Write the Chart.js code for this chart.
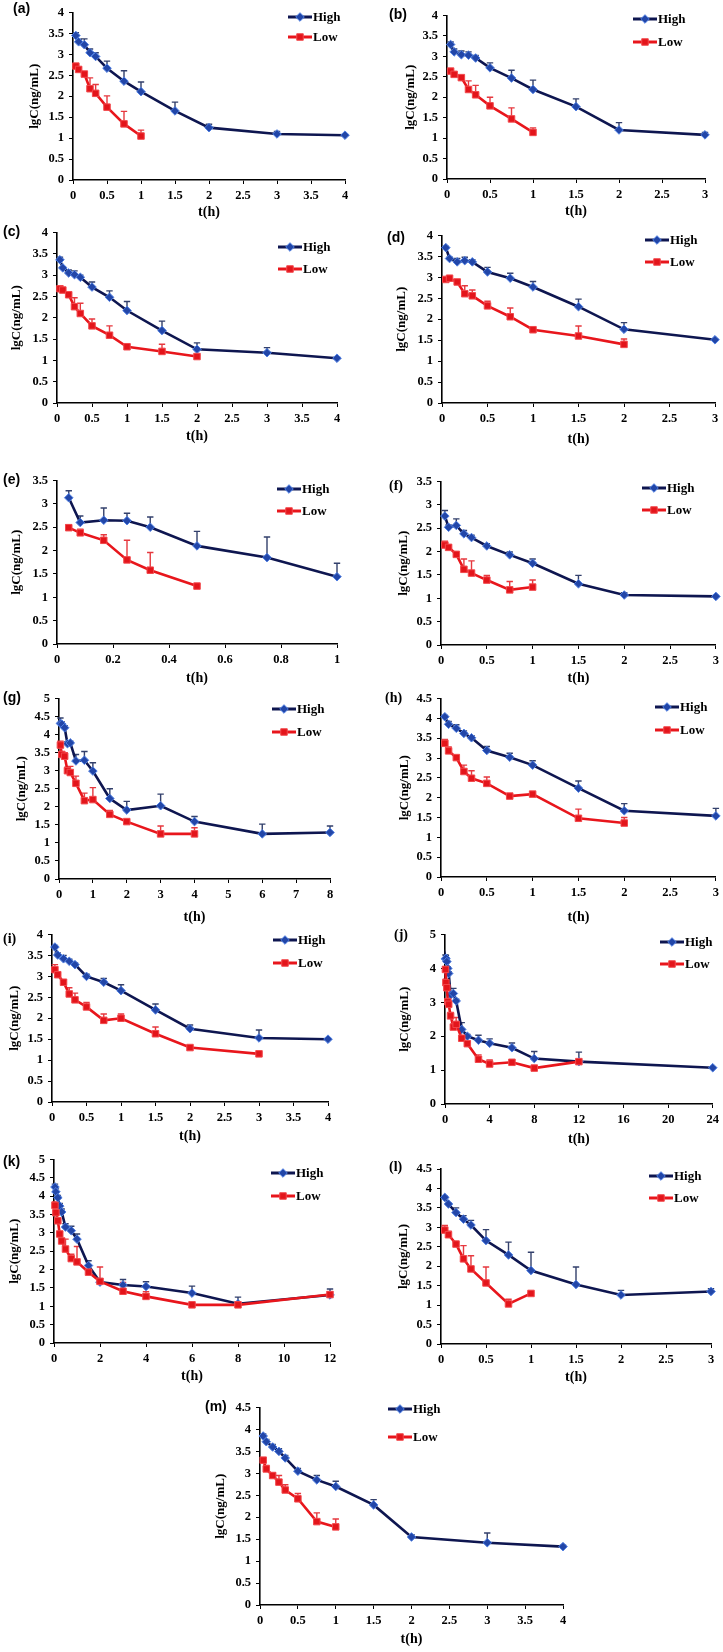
<!DOCTYPE html>
<html lang="en">
<head>
<meta charset="UTF-8">
<title>lgC-t curves, High / Low</title>
<script src="https://cdn.jsdelivr.net/npm/chart.js"></script>
<style>
  body { margin: 0; background: #fff; }
  #wrap { position: relative; width: 723px; height: 1652px; }
  #wrap canvas { position: absolute; }
</style>
</head>
<body>
<div id="wrap"></div>
<script>
// sampling times (h)
const T1  = [0.042, 0.083, 0.167, 0.25, 0.333, 0.5, 0.75, 1];
const T3  = [0.042, 0.083, 0.167, 0.25, 0.333, 0.5, 0.75, 1, 1.5, 2, 3];
const T4  = [0.042, 0.083, 0.167, 0.25, 0.333, 0.5, 0.75, 1, 1.5, 2, 3, 4];
const T8  = [0.042, 0.083, 0.167, 0.25, 0.333, 0.5, 0.75, 1, 1.5, 2, 3, 4, 6, 8];
const T12 = [0.042, 0.083, 0.167, 0.25, 0.333, 0.5, 0.75, 1, 1.5, 2, 3, 4, 6, 8, 12];
const T24 = [0.042, 0.083, 0.167, 0.25, 0.333, 0.5, 0.75, 1, 1.5, 2, 3, 4, 6, 8, 12, 24];

// lgC means and SDs (low series uses the first n times of its panel)
const highA = [3.45, 3.30, 3.23, 3.04, 2.95, 2.67, 2.36, 2.11, 1.65, 1.25, 1.10, 1.07];
const highSdA = [0.07, 0.06, 0.14, 0.09, 0.09, 0.17, 0.25, 0.23, 0.21, 0.08, 0.06, 0.02];
const lowA = [2.72, 2.64, 2.53, 2.18, 2.07, 1.74, 1.34, 1.05];
const lowSdA = [0.03, 0.05, 0.05, 0.26, 0.21, 0.27, 0.30, 0.14];

const highB = [3.29, 3.11, 3.04, 3.03, 2.96, 2.72, 2.47, 2.19, 1.77, 1.20, 1.08];
const highSdB = [0.06, 0.07, 0.09, 0.08, 0.06, 0.12, 0.19, 0.23, 0.19, 0.18, 0.06];
const lowB = [2.64, 2.56, 2.48, 2.19, 2.06, 1.79, 1.47, 1.14];
const lowSdB = [0.03, 0.03, 0.03, 0.21, 0.23, 0.21, 0.27, 0.11];

const highC = [3.36, 3.17, 3.05, 3.01, 2.95, 2.72, 2.48, 2.17, 1.70, 1.26, 1.18, 1.05];
const highSdC = [0.06, 0.03, 0.07, 0.09, 0.05, 0.12, 0.15, 0.21, 0.22, 0.15, 0.12, 0.03];
const lowC = [2.68, 2.65, 2.54, 2.26, 2.10, 1.81, 1.59, 1.32, 1.21, 1.09];
const lowSdC = [0.02, 0.05, 0.03, 0.21, 0.24, 0.16, 0.22, 0.05, 0.17, 0.02];

const highD = [3.71, 3.45, 3.37, 3.40, 3.37, 3.13, 2.98, 2.77, 2.30, 1.76, 1.51];
const highSdD = [0.03, 0.03, 0.08, 0.08, 0.05, 0.11, 0.12, 0.13, 0.18, 0.16, 0.02];
const lowD = [2.95, 2.98, 2.89, 2.61, 2.56, 2.32, 2.06, 1.75, 1.60, 1.40];
const lowSdD = [0.03, 0.03, 0.03, 0.19, 0.14, 0.11, 0.21, 0.01, 0.24, 0.13];

const highE = [3.13, 2.60, 2.65, 2.64, 2.50, 2.10, 1.85, 1.44];
const highSdE = [0.15, 0.14, 0.26, 0.16, 0.22, 0.31, 0.44, 0.29];
const lowE = [2.49, 2.38, 2.22, 1.80, 1.58, 1.24];
const lowSdE = [0.06, 0.08, 0.12, 0.42, 0.38, 0.03];

const highF = [2.76, 2.52, 2.56, 2.38, 2.30, 2.12, 1.93, 1.75, 1.31, 1.07, 1.04];
const highSdF = [0.12, 0.05, 0.14, 0.07, 0.05, 0.05, 0.06, 0.09, 0.18, 0.05, 0.02];
const lowF = [2.14, 2.09, 1.94, 1.62, 1.54, 1.39, 1.18, 1.24];
const lowSdF = [0.08, 0.05, 0.05, 0.22, 0.26, 0.10, 0.18, 0.15];

const highG = [4.31, 4.29, 4.19, 3.75, 3.77, 3.27, 3.29, 2.99, 2.23, 1.91, 2.03, 1.59, 1.25, 1.29];
const highSdG = [0.15, 0.06, 0.06, 0.05, 0.05, 0.18, 0.24, 0.23, 0.27, 0.24, 0.32, 0.14, 0.27, 0.18];
const lowG = [3.71, 3.45, 3.40, 3.00, 2.95, 2.65, 2.17, 2.20, 1.79, 1.59, 1.25, 1.25];
const lowSdG = [0.11, 0.05, 0.10, 0.10, 0.17, 0.20, 0.21, 0.33, 0.11, 0.03, 0.22, 0.17];

const highH = [4.04, 3.85, 3.75, 3.62, 3.51, 3.19, 3.02, 2.82, 2.24, 1.67, 1.54];
const highSdH = [0.03, 0.07, 0.09, 0.06, 0.05, 0.10, 0.10, 0.11, 0.18, 0.18, 0.19];
const lowH = [3.37, 3.18, 3.01, 2.66, 2.49, 2.36, 2.04, 2.09, 1.48, 1.36];
const lowSdH = [0.10, 0.10, 0.04, 0.16, 0.19, 0.16, 0.03, 0.01, 0.23, 0.14];

const highI = [3.70, 3.51, 3.42, 3.36, 3.28, 3.00, 2.86, 2.66, 2.20, 1.75, 1.53, 1.50];
const highSdI = [0.04, 0.05, 0.08, 0.05, 0.04, 0.05, 0.09, 0.14, 0.14, 0.09, 0.19, 0.02];
const lowI = [3.16, 3.04, 2.86, 2.58, 2.44, 2.27, 1.95, 2.00, 1.63, 1.30, 1.15];
const lowSdI = [0.12, 0.06, 0.04, 0.15, 0.16, 0.11, 0.15, 0.10, 0.16, 0.03, 0.02];

const highJ = [4.28, 4.30, 4.20, 4.00, 3.85, 3.22, 3.26, 3.04, 2.20, 2.00, 1.88, 1.79, 1.66, 1.34, 1.25, 1.07];
const highSdJ = [0.12, 0.08, 0.05, 0.05, 0.05, 0.05, 0.15, 0.05, 0.20, 0.05, 0.15, 0.13, 0.14, 0.21, 0.28, 0.03];
const lowJ = [3.97, 3.58, 3.43, 3.02, 2.94, 2.60, 2.27, 2.35, 1.94, 1.78, 1.32, 1.18, 1.23, 1.06, 1.25];
const lowSdJ = [0.08, 0.10, 0.05, 0.05, 0.10, 0.10, 0.05, 0.20, 0.05, 0.05, 0.13, 0.12, 0.07, 0.02, 0.05];

const highK = [4.25, 4.12, 3.96, 3.73, 3.57, 3.16, 3.06, 2.83, 2.11, 1.66, 1.58, 1.54, 1.36, 1.07, 1.31];
const highSdK = [0.08, 0.08, 0.06, 0.07, 0.08, 0.09, 0.12, 0.14, 0.13, 0.09, 0.15, 0.13, 0.19, 0.18, 0.16];
const lowK = [3.75, 3.55, 3.33, 2.97, 2.78, 2.56, 2.30, 2.21, 1.93, 1.68, 1.41, 1.27, 1.04, 1.04, 1.32];
const lowSdK = [0.09, 0.05, 0.05, 0.05, 0.06, 0.27, 0.12, 0.42, 0.05, 0.39, 0.24, 0.13, 0.03, 0.06, 0.08];

const highL = [3.77, 3.60, 3.38, 3.21, 3.06, 2.66, 2.29, 1.89, 1.53, 1.26, 1.35];
const highSdL = [0.03, 0.03, 0.12, 0.09, 0.12, 0.28, 0.33, 0.47, 0.45, 0.12, 0.07];
const lowL = [2.93, 2.81, 2.57, 2.19, 1.93, 1.57, 1.03, 1.30];
const lowSdL = [0.12, 0.09, 0.05, 0.34, 0.34, 0.41, 0.12, 0.02];

const highM = [3.85, 3.72, 3.60, 3.50, 3.35, 3.05, 2.85, 2.70, 2.28, 1.55, 1.42, 1.33];
const highSdM = [0.05, 0.05, 0.06, 0.06, 0.06, 0.06, 0.10, 0.12, 0.12, 0.05, 0.22, 0.03];
const lowM = [3.30, 3.10, 2.95, 2.80, 2.62, 2.42, 1.90, 1.78];
const lowSdM = [0.05, 0.08, 0.06, 0.15, 0.12, 0.12, 0.20, 0.18];

const panelNames = ['(a)', '(b)', '(c)', '(d)', '(e)', '(f)', '(g)', '(h)', '(i)', '(j)', '(k)', '(l)', '(m)'];
const panelTimes = [T4, T3, T4, T3, T1, T3, T8, T3, T4, T24, T12, T3, T4];
const highSeries = [highA, highB, highC, highD, highE, highF, highG, highH, highI, highJ, highK, highL, highM];
const highSds = [highSdA, highSdB, highSdC, highSdD, highSdE, highSdF, highSdG, highSdH, highSdI, highSdJ, highSdK, highSdL, highSdM];
const lowSeries = [lowA, lowB, lowC, lowD, lowE, lowF, lowG, lowH, lowI, lowJ, lowK, lowL, lowM];
const lowSds = [lowSdA, lowSdB, lowSdC, lowSdD, lowSdE, lowSdF, lowSdG, lowSdH, lowSdI, lowSdJ, lowSdK, lowSdL, lowSdM];
const xMaxes = [4, 3, 4, 3, 1, 3, 8, 3, 4, 24, 12, 3, 4];
const xSteps = [0.5, 0.5, 0.5, 0.5, 0.2, 0.5, 1, 0.5, 0.5, 4, 2, 0.5, 0.5];
const yMaxes = [4, 4, 4, 4, 3.5, 3.5, 5, 4.5, 4, 5, 5, 4.5, 4.5];

// page layout: canvas column (cx, cw), plot box (l,t,r,b), y title x, x title y,
// legend line start (gx, gy) and row gap, panel label (px, py, serif)
const boxes = [
  { cx: 0,   cw: 362, l: 73,  t: 6,    r: 345, b: 180,  ytx: 35,  xty: 212,  gx: 288, gy: 17,   gap: 20, px: 13,  py: 9,    serif: false },
  { cx: 362, cw: 361, l: 447, t: 15,   r: 705, b: 179,  ytx: 411, xty: 211,  gx: 633, gy: 19,   gap: 23, px: 389, py: 15,   serif: false },
  { cx: 0,   cw: 362, l: 57,  t: 232,  r: 337, b: 403,  ytx: 17,  xty: 436,  gx: 278, gy: 247,  gap: 22, px: 3,   py: 232,  serif: false },
  { cx: 362, cw: 361, l: 442, t: 235,  r: 715, b: 403,  ytx: 402, xty: 439,  gx: 645, gy: 240,  gap: 22, px: 387, py: 238,  serif: false },
  { cx: 0,   cw: 362, l: 57,  t: 480,  r: 337, b: 644,  ytx: 17,  xty: 678,  gx: 277, gy: 489,  gap: 22, px: 3,   py: 480,  serif: false },
  { cx: 362, cw: 361, l: 441, t: 481,  r: 717, b: 645,  ytx: 404, xty: 678,  gx: 642, gy: 488,  gap: 22, px: 389, py: 486,  serif: true },
  { cx: 0,   cw: 362, l: 59,  t: 698,  r: 330, b: 879,  ytx: 22,  xty: 917,  gx: 272, gy: 709,  gap: 23, px: 3,   py: 698,  serif: false },
  { cx: 362, cw: 361, l: 441, t: 698,  r: 716, b: 877,  ytx: 405, xty: 917,  gx: 655, gy: 707,  gap: 23, px: 385, py: 698,  serif: true },
  { cx: 0,   cw: 362, l: 52,  t: 934,  r: 328, b: 1102, ytx: 15,  xty: 1136, gx: 273, gy: 940,  gap: 23, px: 3,   py: 939,  serif: true },
  { cx: 362, cw: 361, l: 445, t: 934,  r: 715, b: 1104, ytx: 405, xty: 1139, gx: 660, gy: 942,  gap: 22, px: 394, py: 935,  serif: true },
  { cx: 0,   cw: 362, l: 54,  t: 1159, r: 330, b: 1343, ytx: 15,  xty: 1376, gx: 271, gy: 1173, gap: 23, px: 3,   py: 1162, serif: false },
  { cx: 362, cw: 361, l: 441, t: 1169, r: 711, b: 1344, ytx: 404, xty: 1377, gx: 649, gy: 1176, gap: 22, px: 389, py: 1167, serif: true },
  { cx: 150, cw: 440, l: 260, t: 1407, r: 563, b: 1605, ytx: 221, xty: 1639, gx: 388, gy: 1409, gap: 28, px: 205, py: 1407, serif: false }
];

const SERIF = '"Liberation Serif", "Times New Roman", serif';
const SANS = '"Liberation Sans", Arial, sans-serif';
const HIGH = { line: '#0e1650', fill: '#2246a8', edge: '#4f7fe2', err: '#33406c', style: 'rectRot', radius: 4.3 };
const LOW  = { line: '#e8161c', fill: '#e3151b', edge: '#f2484c', err: '#e6393f', style: 'rect', radius: 4.6 };

// upward-only SD bars, drawn under the lines
const errorBars = {
  id: 'errorBars',
  beforeDatasetsDraw(chart) {
    const ctx = chart.ctx, xs = chart.scales.x, ys = chart.scales.y;
    chart.data.datasets.forEach(ds => {
      ctx.save();
      ctx.strokeStyle = ds.errColor;
      ctx.lineWidth = 1.4;
      ds.data.forEach((p, i) => {
        const x = xs.getPixelForValue(p.x);
        const y0 = ys.getPixelForValue(p.y);
        const y1 = ys.getPixelForValue(p.y + ds.sd[i]);
        ctx.beginPath();
        ctx.moveTo(x, y0); ctx.lineTo(x, y1);
        ctx.moveTo(x - 3.2, y1); ctx.lineTo(x + 3.2, y1);
        ctx.stroke();
      });
      ctx.restore();
    });
  }
};

function drawMarker(ctx, s, x, y) {
  ctx.save();
  ctx.fillStyle = s.fill;
  ctx.strokeStyle = s.edge;
  ctx.lineWidth = 1;
  Chart.helpers.drawPoint(ctx, { pointStyle: s.style, radius: s.radius, borderWidth: 1, rotation: 0 }, x, y);
  ctx.restore();
}

// legend inside the plot + panel letter
const panelDecor = {
  id: 'panelDecor',
  afterDraw(chart, args, opts) {
    const ctx = chart.ctx;
    [HIGH, LOW].forEach((s, i) => {
      const y = opts.gy + i * opts.gap;
      ctx.save();
      ctx.strokeStyle = s.line;
      ctx.lineWidth = 3;
      ctx.beginPath();
      ctx.moveTo(opts.gx, y); ctx.lineTo(opts.gx + 24, y);
      ctx.stroke();
      ctx.restore();
      drawMarker(ctx, s, opts.gx + 12, y);
      ctx.save();
      ctx.fillStyle = '#000';
      ctx.font = 'bold 13px ' + SERIF;
      ctx.textBaseline = 'middle';
      ctx.fillText(i === 0 ? 'High' : 'Low', opts.gx + 25, y + 1);
      ctx.restore();
    });
    ctx.save();
    ctx.fillStyle = '#000';
    ctx.font = 'bold 14px ' + (opts.serif ? SERIF : SANS);
    ctx.textBaseline = 'middle';
    ctx.fillText(opts.name, opts.px, opts.py);
    ctx.restore();
  }
};

const plainNumber = v => String(Number(v.toFixed(3)));
const wrap = document.getElementById('wrap');

panelNames.forEach((name, k) => {
  const L = boxes[k];
  const cy = Math.max(0, Math.min(L.t, L.py, L.gy) - 12);
  const ch = L.xty + 11 - cy;
  const canvas = document.createElement('canvas');
  canvas.width = L.cw; canvas.height = ch;
  canvas.style.left = L.cx + 'px'; canvas.style.top = cy + 'px';
  canvas.style.width = L.cw + 'px'; canvas.style.height = ch + 'px';
  wrap.appendChild(canvas);

  const t = panelTimes[k];
  const hi = highSeries[k].map((v, i) => ({ x: t[i], y: v }));
  const lo = lowSeries[k].map((v, i) => ({ x: t[i], y: v }));
  const tickFont = { family: SERIF, size: 12.5, weight: 'bold' };

  new Chart(canvas, {
    type: 'scatter',
    data: {
      datasets: [
        { label: 'High', data: hi, sd: highSds[k], errColor: HIGH.err, showLine: true, order: 1,
          borderColor: HIGH.line, borderWidth: 2.6, pointStyle: HIGH.style, pointRadius: HIGH.radius,
          pointBackgroundColor: HIGH.fill, pointBorderColor: HIGH.edge, pointBorderWidth: 1, clip: false, tension: 0 },
        { label: 'Low', data: lo, sd: lowSds[k], errColor: LOW.err, showLine: true, order: 0,
          borderColor: LOW.line, borderWidth: 2.6, pointStyle: LOW.style, pointRadius: LOW.radius,
          pointBackgroundColor: LOW.fill, pointBorderColor: LOW.edge, pointBorderWidth: 1, clip: false, tension: 0 }
      ]
    },
    options: {
      responsive: false,
      animation: false,
      events: [],
      layout: { padding: { left: 0, top: L.t - cy, right: L.cx + L.cw - L.r, bottom: 0 } },
      plugins: {
        legend: { display: false },
        tooltip: { enabled: false },
        panelDecor: { gx: L.gx - L.cx, gy: L.gy - cy, gap: L.gap, px: L.px - L.cx, py: L.py - cy, serif: L.serif, name: name }
      },
      scales: {
        x: {
          type: 'linear', min: 0, max: xMaxes[k],
          ticks: { stepSize: xSteps[k], font: tickFont, color: '#000', padding: 4, maxRotation: 0, autoSkip: false,
                   callback: plainNumber },
          grid: { drawOnChartArea: false, color: '#000', tickLength: 4 },
          border: { color: '#000', width: 1.6 },
          title: { display: true, text: 't(h)', color: '#000', font: { family: SERIF, size: 14, weight: 'bold' },
                   padding: { top: 0, bottom: 11 - 8.4 } },
          afterFit: s => { s.height = cy + ch - L.b; }
        },
        y: {
          type: 'linear', min: 0, max: yMaxes[k],
          ticks: { stepSize: 0.5, font: tickFont, color: '#000', padding: 5, callback: plainNumber },
          grid: { drawOnChartArea: false, color: '#000', tickLength: 4 },
          border: { color: '#000', width: 1.6 },
          title: { display: true, text: 'lgC(ng/mL)', color: '#000', font: { family: SERIF, size: 13, weight: 'bold' },
                   padding: { top: L.ytx - L.cx - 7.8, bottom: 0 } },
          afterFit: s => { s.width = L.l - L.cx; }
        }
      }
    },
    plugins: [errorBars, panelDecor]
  });
});
</script>
</body>
</html>
